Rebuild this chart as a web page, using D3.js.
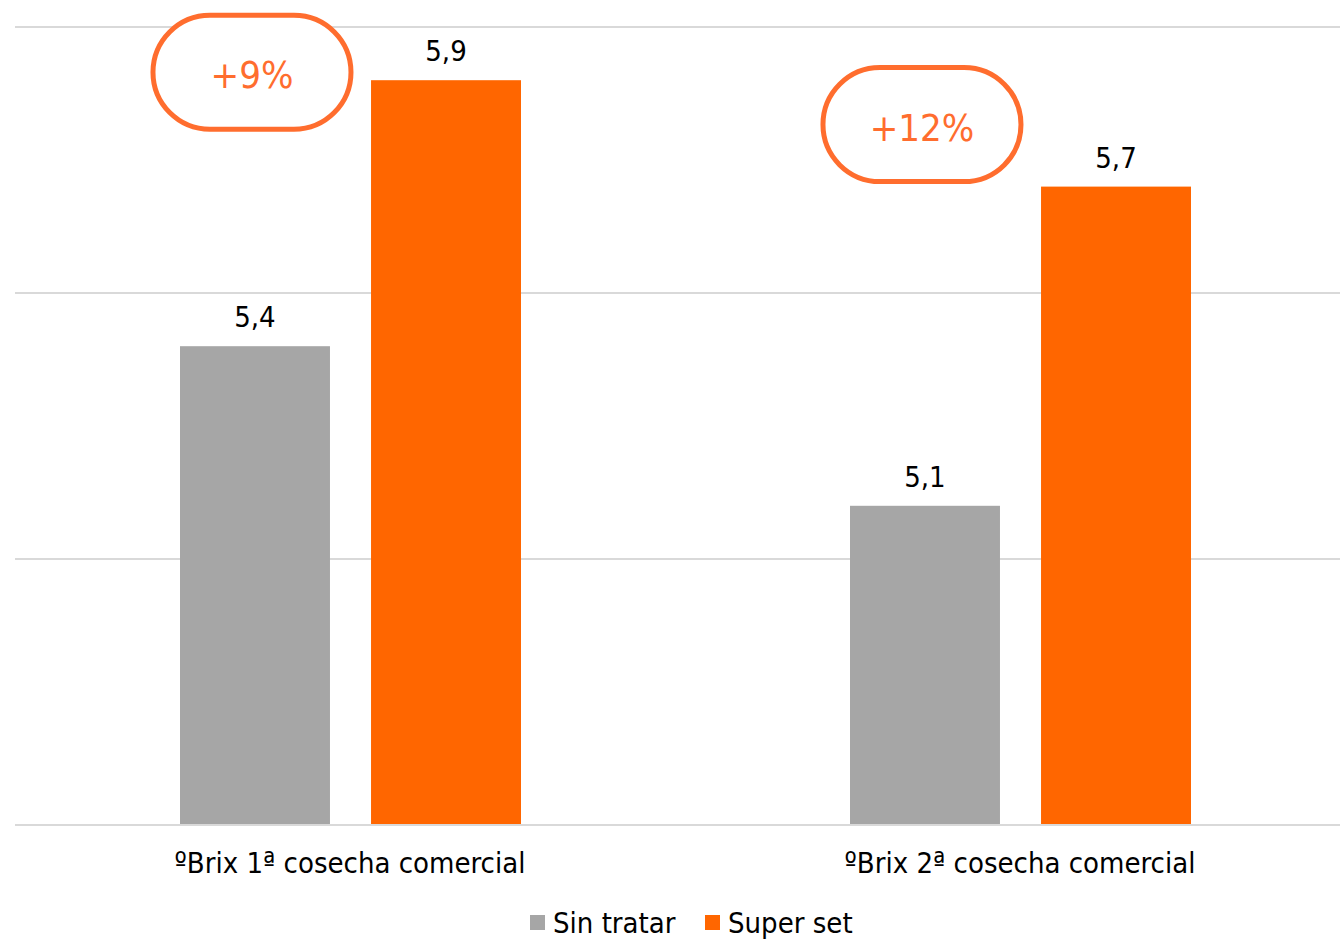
<!DOCTYPE html>
<html>
<head>
<meta charset="utf-8">
<script src="https://cdn.jsdelivr.net/npm/d3@7"></script>
<style>
  body { margin: 0; background: #fff; }
  svg text { font-family: "Liberation Sans Narrow", "DejaVu Sans Condensed", sans-serif; }
</style>
</head>
<body>
<svg width="1340" height="941"></svg>
<script>
// data
var categories = ["ºBrix 1ª cosecha comercial", "ºBrix 2ª cosecha comercial"];
var seriesNames = ["Sin tratar", "Super set"];
var sinTratar = [5.4, 5.1];
var superSet = [5.9, 5.7];
var badgeLabels = ["+9%", "+12%"];
var yTicks = [4.5, 5.0, 5.5, 6.0];

var colours = { "Sin tratar": "#a6a6a6", "Super set": "#ff6600" };

var svg = d3.select("svg");

var x0 = d3.scaleBand().domain(categories).range([15, 1355]).padding(0);
var x1 = d3.scaleBand().domain(seriesNames).range([165, 506]).paddingInner(0.215);
var y = d3.scaleLinear().domain([4.5, 6.0]).range([825, 27]);

// gridlines
svg.append("g").selectAll("line")
  .data(yTicks)
  .enter().append("line")
  .attr("x1", 15).attr("x2", 1340)
  .attr("y1", function(d){ return y(d); })
  .attr("y2", function(d){ return y(d); })
  .attr("stroke", "#d9d9d9")
  .attr("stroke-width", 2);

var rows = categories.map(function(c, i){
  return { cat: c, vals: [
    { s: "Sin tratar", v: sinTratar[i] },
    { s: "Super set", v: superSet[i] }
  ]};
});

var groups = svg.selectAll(".grp")
  .data(rows)
  .enter().append("g")
  .attr("class", "grp")
  .attr("transform", function(d){ return "translate(" + x0(d.cat) + ",0)"; });

groups.selectAll("rect")
  .data(function(d){ return d.vals; })
  .enter().append("rect")
  .attr("x", function(d){ return x1(d.s); })
  .attr("y", function(d){ return y(d.v); })
  .attr("width", x1.bandwidth())
  .attr("height", function(d){ return y(4.5) - y(d.v) - 1; })
  .attr("fill", function(d){ return colours[d.s]; });

groups.selectAll(".val")
  .data(function(d){ return d.vals; })
  .enter().append("text")
  .attr("class", "val")
  .attr("x", function(d){ return x1(d.s) + x1.bandwidth()/2; })
  .attr("y", function(d){ return y(d.v) - 19; })
  .attr("text-anchor", "middle")
  .attr("font-size", 29)
  .attr("fill", "#000")
  .text(function(d){ return String(d.v.toFixed(1)).replace(".", ","); });

// category labels
svg.append("g").selectAll("text")
  .data(categories)
  .enter().append("text")
  .attr("x", function(d){ return x0(d) + x0.bandwidth()/2; })
  .attr("y", 873)
  .attr("text-anchor", "middle")
  .attr("font-size", 29)
  .attr("fill", "#000")
  .text(function(d){ return d; });

// percentage badges
var badgeOffset = [8, 62];
var badges = svg.selectAll(".badge")
  .data(badgeLabels)
  .enter().append("g")
  .attr("class", "badge")
  .attr("transform", function(d, i){
    var cx = x0(categories[i]) + x1("Sin tratar") + x1.bandwidth()/2 - 3;
    var cy = y(superSet[i]) - badgeOffset[i];
    return "translate(" + cx + "," + cy + ")";
  });

badges.append("rect")
  .attr("x", -99).attr("y", -57)
  .attr("width", 198).attr("height", 114)
  .attr("rx", 57).attr("ry", 57)
  .attr("fill", "#fff")
  .attr("stroke", "#ff6d2e")
  .attr("stroke-width", 5);

badges.append("text")
  .attr("y", 16)
  .attr("text-anchor", "middle")
  .attr("font-size", 38)
  .attr("fill", "#ff6d2e")
  .text(function(d){ return d; });

// legend
var legend = svg.append("g").attr("transform", "translate(530,915)");
var legX = [0, 175];
var li = legend.selectAll("g")
  .data(seriesNames)
  .enter().append("g")
  .attr("transform", function(d, i){ return "translate(" + legX[i] + ",0)"; });
li.append("rect")
  .attr("width", 15).attr("height", 15)
  .attr("fill", function(d){ return colours[d]; });
li.append("text")
  .attr("x", 23).attr("y", 18)
  .attr("font-size", 29)
  .attr("fill", "#000")
  .text(function(d){ return d; });
</script>
</body>
</html>
